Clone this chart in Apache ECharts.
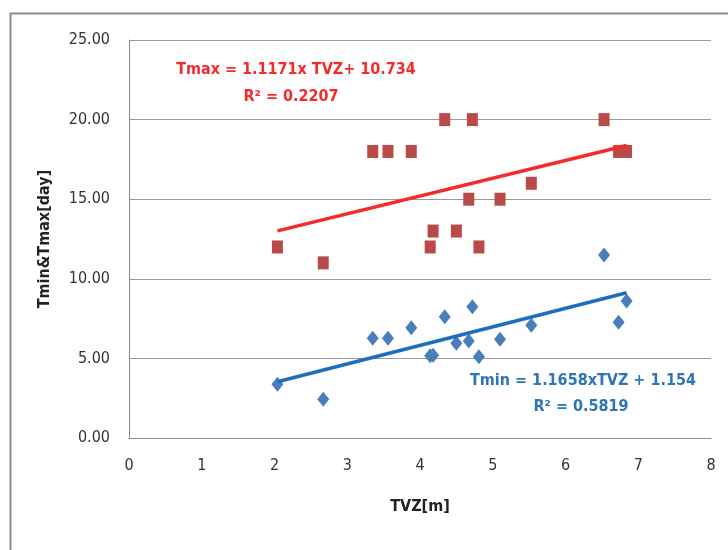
<!DOCTYPE html>
<html>
<head>
<meta charset="utf-8">
<script src="https://cdn.jsdelivr.net/npm/echarts@6/dist/echarts.min.js"></script>
<style>
  html, body { margin: 0; padding: 0; background: #fff; }
  #chart { width: 728px; height: 550px; }
</style>
</head>
<body>
<div id="chart"></div>
<script>
// TVZ values (shared by both series)
var tvz = [2.04, 2.67, 3.35, 3.56, 3.88, 4.14, 4.18, 4.34, 4.50, 4.67, 4.72, 4.81, 5.10, 5.53, 6.53, 6.73, 6.84];
var tmax = [12.0, 11.0, 18.0, 18.0, 18.0, 12.0, 13.0, 20.0, 13.0, 15.0, 20.0, 12.0, 15.0, 16.0, 20.0, 18.0, 18.0];
var tmin = [3.37, 2.43, 6.26, 6.26, 6.93, 5.17, 5.2, 7.62, 5.95, 6.09, 8.25, 5.11, 6.2, 7.08, 11.49, 7.27, 8.61];

// trend line coefficients [slope, intercept]
var tmaxFit = [1.1171, 10.734];
var tminFit = [1.1658, 1.154];

var font = "'DejaVu Sans Condensed', 'Open Sans', sans-serif";
var labelFont = "'Open Sans', 'DejaVu Sans Condensed', sans-serif";

function pairs(xs, ys) {
    return xs.map(function (x, i) { return [x, ys[i]]; });
}
function fitLine(fit) {
    var x0 = Math.min.apply(null, tvz), x1 = Math.max.apply(null, tvz);
    return [[x0, fit[0] * x0 + fit[1]], [x1, fit[0] * x1 + fit[1]]];
}

function note(text, x, y, color) {
    return {
        type: 'text', x: x, y: y,
        style: {
            text: text, fill: color, font: 'bold 16px ' + font,
            textAlign: 'center', textVerticalAlign: 'middle'
        }
    };
}

var chart = echarts.init(document.getElementById('chart'));
var option = {
    backgroundColor: '#fff',
    animation: false,
    grid: { left: 129, right: 17, top: 40, bottom: 112 },
    graphic: [
        {
            type: 'rect',
            left: 8, top: 11,
            shape: { width: 740, height: 560 },
            style: { fill: 'none', stroke: '#8c8c8c', lineWidth: 2 },
            z: -1
        },
        note('Tmax = 1.1171x TVZ+ 10.734', 296, 70, '#f52a2a'),
        note('R² = 0.2207', 291, 97, '#f52a2a'),
        note('Tmin = 1.1658xTVZ + 1.154', 583, 381, '#2e75b6'),
        note('R² = 0.5819', 581, 407, '#2e75b6')
    ],
    xAxis: {
        type: 'value',
        min: 0, max: 8, interval: 1,
        name: 'TVZ[m]',
        nameLocation: 'middle',
        nameGap: 61,
        nameTextStyle: { color: '#222', fontWeight: 'bold', fontSize: 16, fontFamily: font },
        axisLine: { lineStyle: { color: '#8c8c8c', width: 1 } },
        axisTick: { show: false },
        axisLabel: { color: '#333', fontSize: 16, margin: 20, fontFamily: font },
        splitLine: { show: false }
    },
    yAxis: {
        type: 'value',
        min: 0, max: 25, interval: 5,
        name: 'Tmin&Tmax[day]',
        nameLocation: 'middle',
        nameGap: 76,
        nameTextStyle: { color: '#222', fontWeight: 'bold', fontSize: 16, fontFamily: font },
        axisLine: { show: true, lineStyle: { color: '#8c8c8c', width: 1 } },
        axisTick: { show: false },
        axisLabel: {
            color: '#333', fontSize: 16, margin: 19, fontFamily: font,
            formatter: function (v) { return v.toFixed(2); }
        },
        splitLine: { show: true, lineStyle: { color: '#9a9a9a', width: 1 } }
    },
    series: [
        {
            name: 'Tmax',
            type: 'scatter',
            symbol: 'rect',
            symbolSize: [11, 13],
            data: pairs(tvz, tmax),
            itemStyle: { color: '#b94a48', opacity: 1 },
            z: 3
        },
        {
            name: 'Tmin',
            type: 'scatter',
            symbol: 'diamond',
            symbolSize: [12, 15],
            data: pairs(tvz, tmin),
            itemStyle: { color: '#4a7ebb', opacity: 1 },
            z: 3
        },
        {
            name: 'Tmax fit',
            type: 'line',
            data: fitLine(tmaxFit),
            symbol: 'none',
            lineStyle: { color: '#f52a2a', width: 3.5 },
            z: 4
        },
        {
            name: 'Tmin fit',
            type: 'line',
            data: fitLine(tminFit),
            symbol: 'none',
            lineStyle: { color: '#1f6dbd', width: 3.5 },
            z: 4
        }
    ]
};
chart.setOption(option);
</script>
</body>
</html>
